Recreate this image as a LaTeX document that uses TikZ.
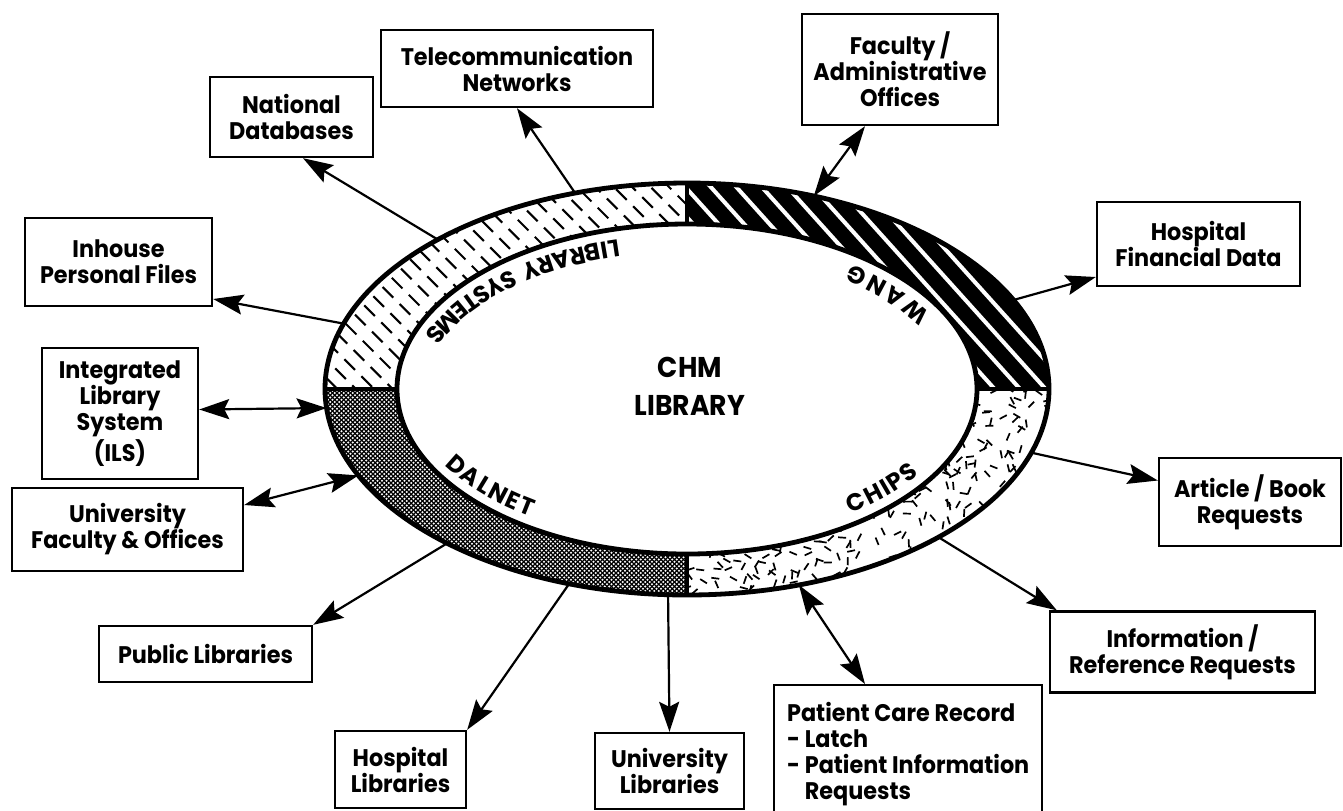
\documentclass[tikz,border=0pt]{standalone}
\usepackage{fontspec}
\setmainfont{Poppins}[FakeStretch=0.93]
\newfontfamily\ringfam{Poppins}
\usetikzlibrary{arrows.meta,calc}
\newcommand\boxfont{\bfseries\fontsize{12}{13}\selectfont}
\newcommand\ringfont{\ringfam\bfseries\fontsize{12}{13}\selectfont}
\newcommand\chmfont{\bfseries\fontsize{14.3}{19}\selectfont}
% letter widths measured before the picture
\newdimen\rwlen
\newcommand\rwstore[1]{\settowidth\rwlen{\ringfont #1}\expandafter\xdef\csname rww#1\endcsname{\the\rwlen}}
\AtBeginDocument{\rwstore{A}\rwstore{B}\rwstore{C}\rwstore{D}\rwstore{E}\rwstore{G}\rwstore{H}\rwstore{I}\rwstore{L}\rwstore{M}\rwstore{N}\rwstore{P}\rwstore{R}\rwstore{S}\rwstore{T}\rwstore{W}\rwstore{Y}}
% letters set one by one along the inner side of the ring
\newcommand\rwadvance[2]{%
  \edef\rwtmp{\csname rww#2\endcsname}%
  \pgfmathsetmacro\rwhalf{\rwtmp}%
  \pgfmathsetmacro\rws{100*sqrt((2.79*sin(\rwang))^2+(1.54*cos(\rwang))^2)}%
  \pgfmathsetmacro\rwmid{\rwang+57.2958*\rwhalf/\rws}%
  \pgfmathsetmacro\rwrot{atan2(1.54*cos(\rwmid),-2.79*sin(\rwmid))}%
  \path (C) ++(\rwmid:279 and 154) node[font=\ringfont, rotate=\rwrot, anchor=base, inner sep=0pt] {#2};%
  \pgfmathsetmacro\rwnew{\rwang+57.2958*(2*\rwhalf+#1)/\rws}%
  \xdef\rwang{\rwnew}}
\newcommand\ringword[3]{\xdef\rwang{#1}\foreach \rwch in {#3}{\rwadvance{#2}{\rwch}}}
\newcommand\ringmore[3]{%
  \pgfmathsetmacro\rwnew{\rwang+57.2958*#1/(100*sqrt((2.79*sin(\rwang))^2+(1.54*cos(\rwang))^2))}%
  \xdef\rwang{\rwnew}\foreach \rwch in {#3}{\rwadvance{#2}{\rwch}}}
\begin{document}
\begin{tikzpicture}[x=0.5pt,y=0.5pt,
  >={Stealth[length=15pt,width=10pt,inset=2.5pt]},
  box/.style={draw, line width=1.2pt, align=center, inner sep=0pt, font=\boxfont},
  sz/.style 2 args={minimum width=#1*0.5pt, minimum height=#2*0.5pt},
  conn/.style={line width=1.1pt, ->},
  conn2/.style={line width=1.1pt, <->},
  ringline/.style={line width=2.4pt}]
\useasboundingbox (0,0) rectangle (1343,-810);
\coordinate (C) at (687,-389);

% WANG sector: black with white stripes
\fill (C) ++(0:362 and 206) arc[start angle=0,end angle=90,x radius=362,y radius=206] -- ++(0,-41) arc[start angle=90,end angle=0,x radius=290,y radius=165] -- cycle;
\begin{scope}
\clip (C) ++(0:362 and 206) arc[start angle=0,end angle=90,x radius=362,y radius=206] -- ++(0,-41) arc[start angle=90,end angle=0,x radius=290,y radius=165] -- cycle;
\draw[white, line width=2pt] \foreach \i in {0,...,24} { ({298+25.5*\i+150},-150) -- ({298+25.5*\i+420},-450) };
\end{scope}

% LIBRARY SYSTEMS sector: dashed diagonal lines
\begin{scope}
\clip (C) ++(90:362 and 206) arc[start angle=90,end angle=180,x radius=362,y radius=206] -- ++(72,0) arc[start angle=180,end angle=90,x radius=290,y radius=165] -- cycle;
\foreach \i in {0,...,32} {
  \draw[line width=1.05pt, dash pattern=on 7.5pt off 4.5pt] ({(-70+18.4*\i+500)/2},{(-70+18.4*\i-500)/2}) -- ++(300,-300);
}
\end{scope}

% DALNET sector: fine crosshatch
\begin{scope}
\clip (C) ++(180:362 and 206) arc[start angle=180,end angle=270,x radius=362,y radius=206] -- ++(0,41) arc[start angle=270,end angle=180,x radius=290,y radius=165] -- cycle;
\draw[line width=0.6pt] \foreach \i in {0,...,127} { ({-272+4.5*\i+300},-300) -- ({-272+4.5*\i+620},-620) };
\draw[line width=0.6pt] \foreach \i in {0,...,127} { ({712+4.5*\i-300},-300) -- ({712+4.5*\i-620},-620) };
\end{scope}

% CHIPS sector: random short dashes
\begin{scope}
\clip (C) ++(270:362 and 206) arc[start angle=270,end angle=360,x radius=362,y radius=206] -- ++(-72,0) arc[start angle=360,end angle=270,x radius=290,y radius=165] -- cycle;
\pgfmathsetseed{7}
\foreach \i in {1,...,480} {
  \pgfmathsetmacro\px{687+362*rnd}
  \pgfmathsetmacro\py{-389-206*rnd}
  \pgfmathsetmacro\pa{180*rnd}
  \pgfmathsetmacro\pb{\pa+180}
  \draw[line width=0.85pt] (\px,\py) ++(\pa:4) -- ++(\pb:8);
}
\end{scope}

% ring outlines and dividers
\draw[ringline] (C) ellipse [x radius=362, y radius=206];
\draw[ringline] (C) ellipse [x radius=290, y radius=165];
\draw[ringline] (324,-389) -- (398,-389);
\draw[ringline] (976,-389) -- (1050,-389);
\draw[ringline] (687,-182) -- (687,-225);
\draw[ringline] (687,-553) -- (687,-596);

% ring labels
\ringword{104.3}{0.5}{L,I,B,R,A,R,Y}
\ringmore{9}{0.5}{S,Y,S,T,E,M,S}
\ringword{29.2}{4}{W,A,N,G}
\ringword{209.5}{1.5}{D,A,L,N,E,T}
\ringword{306}{2}{C,H,I,P,S}

\node[font=\chmfont, align=center] (chm) at (690,-386) {CHM\\LIBRARY};

% boxes
\node[box, sz={272}{77}] (tel) at (517,-68.5) {Telecommunication\\Networks};
\node[box, sz={163}{80}] (nat) at (291.5,-117) {National\\Databases};
\node[box, sz={187}{88}] (inh) at (118.5,-262) {Inhouse\\Personal Files};
\node[box, sz={156}{131}] (ils) at (120,-413.5) {Integrated\\Library\\System\\(ILS)};
\node[box, sz={231}{83}] (ufac) at (127.5,-529.5) {University\\Faculty \& Offices};
\node[box, sz={213}{56}] (pub) at (205.5,-654) {Public Libraries};
\node[box, sz={131}{77}] (hosp) at (400.5,-769.5) {Hospital\\Libraries};
\node[box, sz={149}{76}] (ulib) at (669.5,-771) {University\\Libraries};
\node[box, anchor=north west, align=left, minimum width=134pt, inner ysep=8.5pt] (pat) at (773,-684) {Patient Care Record\\- Latch\\- Patient Information\\\phantom{- }Requests};
\node[box, sz={196}{111}] (fac) at (900,-69.5) {Faculty /\\Administrative\\Offices};
\node[box, sz={203}{84}] (hfd) at (1198.5,-244) {Hospital\\Financial Data};
\node[box, sz={182}{88}] (art) at (1250,-502) {Article / Book\\Requests};
\node[box, sz={265}{81}] (info) at (1182.5,-652) {Information /\\Reference Requests};

% ring attachment points
\path (C) ++(108:362 and 206) coordinate (r1);
\path (C) ++(133.5:362 and 206) coordinate (r2);
\path (C) ++(161.5:362 and 206) coordinate (r3);
\path (C) ++(185.3:362 and 206) coordinate (r4);
\path (C) ++(204.8:362 and 206) coordinate (r5);
\path (C) ++(228.5:362 and 206) coordinate (r6);
\path (C) ++(251:362 and 206) coordinate (r7);
\path (C) ++(267:362 and 206) coordinate (r8);
\path (C) ++(288:362 and 206) coordinate (r9);
\path (C) ++(314:362 and 206) coordinate (r10);
\path (C) ++(342:362 and 206) coordinate (r11);
\path (C) ++(25.6:362 and 206) coordinate (r12);
\path (C) ++(69.5:362 and 206) coordinate (r13);

% connectors
\draw[conn] (r1) -- (tel.south);
\draw[conn] (r2) -- ([xshift=5.75pt]nat.south);
\draw[conn] (r3) -- ([yshift=-18.5pt]inh.east);
\draw[conn2] (r4) -- ([yshift=2pt]ils.east);
\draw[conn2] (r5) -- ([yshift=12.25pt]ufac.east);
\draw[conn] (r6) -- (pub.north east);
\draw[conn] (r7) -- (hosp.north east);
\draw[conn] (r8) -- (ulib.north);
\draw[conn2] (r9) -- ([xshift=46pt]pat.north west);
\draw[conn] (r10) -- ([xshift=4pt]info.north west);
\draw[conn] (r11) -- ([yshift=10.75pt]art.west);
\draw[conn] (r12) -- ([yshift=-16.5pt]hfd.west);
\draw[conn2] (r13) -- ([xshift=-17.5pt]fac.south);
\end{tikzpicture}
\end{document}
